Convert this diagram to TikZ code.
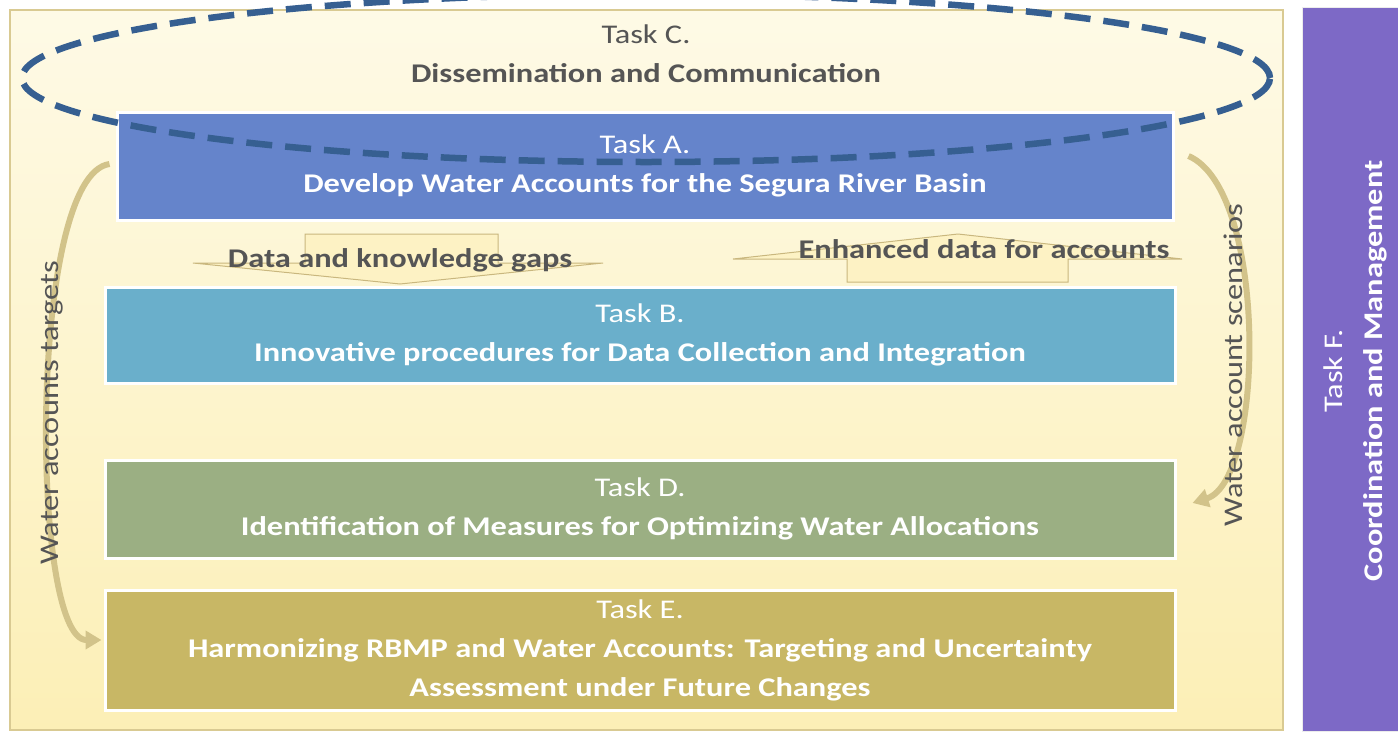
\documentclass[tikz,border=0pt]{standalone}
\usepackage{fontspec}
\setmainfont{Carlito}[FakeStretch=1.2]
\usetikzlibrary{arrows.meta,shapes.geometric}
\definecolor{bgtop}{HTML}{FEFAE6}
\definecolor{bgbot}{HTML}{FCEFB6}
\definecolor{bgedge}{HTML}{D9CA92}
\definecolor{colA}{HTML}{6584CB}
\definecolor{colB}{HTML}{6AAFCB}
\definecolor{colD}{HTML}{9BAF83}
\definecolor{colE}{HTML}{C8B765}
\definecolor{colF}{HTML}{7D69C6}
\definecolor{ellcol}{HTML}{365F91}
\definecolor{blockfill}{HTML}{FDF2C4}
\definecolor{blockedge}{HTML}{C9B77E}
\definecolor{curvecol}{HTML}{D2C38A}
\definecolor{labgrey}{HTML}{555555}
\tikzset{
  taskbox/.style={draw=white, line width=3pt, inner sep=0pt, text=white,
    align=center, font=\fontsize{27}{39}\selectfont},
  arrowlabel/.style={text=labgrey, font=\fontsize{27}{32}\selectfont, inner sep=0pt},
  blockarrow/.style={fill=blockfill, draw=blockedge, line width=1pt},
  curvearrow/.style={draw=curvecol, line width=6pt,
    -{Triangle[width=18pt,length=16pt]}},
}
\begin{document}
\begin{tikzpicture}[x=1pt,y=-1pt]
\useasboundingbox (0,0) rectangle (1398,734);
\fill[white] (0,0) rectangle (1398,734);
% background panel
\node[draw=bgedge, line width=1.5pt, top color=bgtop, bottom color=bgbot,
  minimum width=1273pt, minimum height=720pt, inner sep=0pt] (bg) at (646.5,370) {};
% Task F panel
\node[fill=colF, draw=white!85!gray, line width=1pt, minimum width=96pt,
  minimum height=724pt, inner sep=0pt] (F) at (1350,369) {};
\node[rotate=90, text=white, align=center, font=\fontsize{27}{40}\selectfont]
  (Ft) at (1355,371) {Task F.\\ \textbf{Coordination and Management}};
% block arrows
\draw[blockarrow] (305,234) -- (498,234) -- (498,263) -- (603,263) -- (400,284)
  -- (193,263) -- (305,263) -- cycle;
\draw[blockarrow] (847,282) -- (1068,282) -- (1068,259) -- (1182,259) -- (958,234)
  -- (733,259) -- (847,259) -- cycle;
% task boxes
\node[taskbox, fill=colA, minimum width=1056pt, minimum height=108pt] (A) at (645,166)
  {Task A.\\ \textbf{Develop Water Accounts for the Segura River Basin}};
\node[taskbox, fill=colB, minimum width=1070pt, minimum height=96pt] (B) at (640,335)
  {Task B.\\ \textbf{Innovative procedures for Data Collection and Integration}};
\node[taskbox, fill=colD, minimum width=1070pt, minimum height=98pt] (D) at (640,509)
  {Task D.\\ \textbf{Identification of Measures for Optimizing Water Allocations}};
\node[taskbox, fill=colE, minimum width=1070pt, minimum height=120pt] (E) at (640,650)
  {Task E.\\ \textbf{Harmonizing RBMP and Water Accounts: Targeting and Uncertainty}\\
   \textbf{Assessment under Future Changes}};
% arrow labels
\node[arrowlabel] (gaps) at (400,260) {\textbf{Data and knowledge gaps}};
\node[arrowlabel] (enh) at (984,249) {\textbf{Enhanced data for accounts}};
% Task C ellipse
\node[ellipse, draw=ellcol, line width=6.5pt, dash pattern=on 26pt off 13pt,
  minimum width=1248pt, minimum height=168pt, inner sep=0pt] (C) at (646,78) {};
\node[text=labgrey, align=center, font=\fontsize{27}{39}\selectfont] (Ct) at (646,54)
  {Task C.\\ \textbf{Dissemination and Communication}};
% curved arrows
\coordinate (aout) at ([xshift=-6pt,yshift=2pt]A.west);
\coordinate (ein) at ([xshift=-2pt,yshift=10pt]E.west);
\draw[curvearrow] (aout) .. controls (28,175) and (30,640) .. (ein);
\coordinate (aout2) at ([xshift=14pt,yshift=10pt]A.east);
\coordinate (din) at ([xshift=16pt,yshift=6pt]D.east);
\draw[curvearrow] (aout2) .. controls (1268,190) and (1265,480) .. (din);
\node[arrowlabel, rotate=90] (wat) at (52,413) {Water accounts targets};
\node[arrowlabel, rotate=90] (was) at (1233,365) {Water account scenarios};
\end{tikzpicture}
\end{document}
